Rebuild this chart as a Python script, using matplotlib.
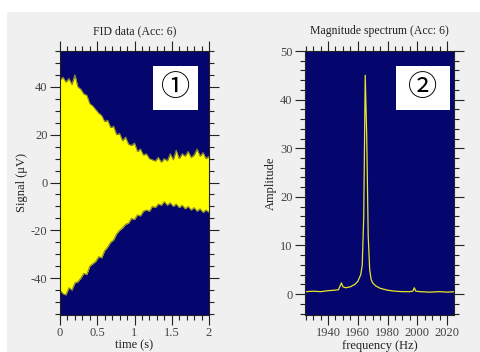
import matplotlib
matplotlib.use("Agg")
import matplotlib.pyplot as plt
from matplotlib.patches import Rectangle
from matplotlib.ticker import MultipleLocator

plt.rcParams["axes.unicode_minus"] = False

# FID envelope (time in s, signal in uV)
fid_time = [0.00, 0.04, 0.08, 0.12, 0.16, 0.20, 0.24, 0.28, 0.32, 0.36,
            0.40, 0.44, 0.48, 0.52, 0.56, 0.60, 0.64, 0.68, 0.72, 0.76,
            0.80, 0.84, 0.88, 0.92, 0.96, 1.00, 1.04, 1.08, 1.12, 1.16,
            1.20, 1.24, 1.28, 1.32, 1.36, 1.40, 1.44, 1.48, 1.52, 1.56,
            1.60, 1.64, 1.68, 1.72, 1.76, 1.80, 1.84, 1.88, 1.92, 1.96, 2.00]
fid_upper = [43, 44, 42, 43.5, 41, 45, 40, 39, 37, 36.5,
             33, 32, 30.5, 29, 28, 25.5, 26, 23, 23.5, 20,
             20.5, 17.5, 19, 16, 15.5, 16.5, 13, 14, 11.5, 12,
             10, 9.5, 9, 10.5, 8.5, 10, 9, 12, 9.5, 13.5,
             10, 12, 11, 13, 10.5, 11.5, 14, 11, 12.5, 10, 11]
fid_lower = [-45, -46.5, -47, -44, -45, -42, -41.5, -40, -38, -38.5,
             -35, -34, -33, -31, -31.5, -28.5, -27, -25, -24, -21.5,
             -20, -19, -17.5, -17, -15, -15.5, -13.5, -14, -12, -11.5,
             -12, -10, -10.5, -9, -9.5, -8, -9.5, -8.5, -10, -9,
             -10.5, -9.5, -11, -10, -11.5, -10.5, -12, -11, -12.5, -11.5, -12.5]

# magnitude spectrum
spec_freq = [1925, 1930, 1935, 1940, 1944, 1947, 1948, 1949, 1950, 1952,
             1955, 1958, 1960, 1962, 1963, 1964, 1965, 1966, 1967, 1968,
             1969, 1970, 1972, 1975, 1980, 1985, 1990, 1995, 1997, 1998,
             1999, 2002, 2008, 2015, 2020, 2025]
spec_amp = [0.5, 0.6, 0.5, 0.7, 0.8, 0.9, 1.6, 2.3, 1.5, 1.3,
            1.5, 2.0, 2.6, 4.0, 6.0, 16.0, 45.0, 32.5, 12.0, 5.0,
            3.0, 2.3, 1.7, 1.2, 0.8, 0.6, 0.5, 0.5, 0.6, 1.3,
            0.6, 0.5, 0.4, 0.5, 0.4, 0.5]

NAVY = "#05056e"
YELLOW = "#ffff00"
BG = "#f0f0f0"
SERIF = "Liberation Serif"
CIRCLED = ["Noto Sans CJK JP", "DejaVu Sans"]

fig = plt.figure(figsize=(4.8, 3.52), dpi=100, facecolor="white")
fig.patches.append(Rectangle((7 / 480, 0), 1, 1 - 12 / 352, transform=fig.transFigure,
                             facecolor=BG, edgecolor="none", zorder=-10))

ax1 = fig.add_axes([60 / 480, 37 / 352, 149 / 480, 264 / 352])
ax2 = fig.add_axes([305 / 480, 37 / 352, 149 / 480, 264 / 352])


def style_axes(ax, xmaj, xmin, ymaj, ymin):
    ax.set_facecolor(NAVY)
    ax.xaxis.set_major_locator(MultipleLocator(xmaj))
    ax.xaxis.set_minor_locator(MultipleLocator(xmin))
    ax.yaxis.set_major_locator(MultipleLocator(ymaj))
    ax.yaxis.set_minor_locator(MultipleLocator(ymin))
    ax.tick_params(which="both", direction="out", top=True, right=True,
                   colors="#222222", labelcolor="#444444", width=0.8)
    ax.tick_params(which="major", length=7, labelsize=9, pad=2)
    ax.tick_params(which="minor", length=3.5)
    for lab in ax.get_xticklabels() + ax.get_yticklabels():
        lab.set_fontfamily(SERIF)
    for sp in ax.spines.values():
        sp.set_color("#222222")
        sp.set_linewidth(0.8)


def number_box(ax, x0, x1, label):
    ax.add_patch(Rectangle((x0, 0.777), x1 - x0, 0.166, transform=ax.transAxes,
                           facecolor="white", edgecolor="none", zorder=5))
    ax.text((x0 + x1) / 2, 0.86, label, transform=ax.transAxes, ha="center",
            va="center", fontsize=21, family=CIRCLED, color="black", zorder=6)


# left: FID data
ax1.fill_between(fid_time, fid_lower, fid_upper, color=YELLOW, linewidth=0)
ax1.plot(fid_time, fid_upper, color="#8a8a30", linewidth=0.8)
ax1.plot(fid_time, fid_lower, color="#8a8a30", linewidth=0.8)
ax1.set_xlim(0, 2)
ax1.set_ylim(-55.4, 55)
style_axes(ax1, 0.5, 0.1, 20, 5)
ax1.set_xticks([0, 0.5, 1, 1.5, 2])
ax1.set_xticklabels(["0", "0.5", "1", "1.5", "2"], family=SERIF)
ax1.set_title("FID data (Acc: 6)", family=SERIF, fontsize=8.5, pad=12, color="#222222")
ax1.set_xlabel("time (s)", family=SERIF, fontsize=9, labelpad=0, color="#222222")
ax1.set_ylabel("Signal (\u03bcV)", family=SERIF, fontsize=9, labelpad=2, color="#222222")
number_box(ax1, 0.624, 0.926, "\u2460")

# right: magnitude spectrum
ax2.plot(spec_freq, spec_amp, color="#e6e62a", linewidth=0.9)
ax2.set_xlim(1924.5, 2024.7)
ax2.set_ylim(-4.3, 50)
style_axes(ax2, 20, 5, 10, 2)
ax2.set_title("Magnitude spectrum (Acc: 6)", family=SERIF, fontsize=8.5, pad=12, color="#222222")
ax2.set_xlabel("frequency (Hz)", family=SERIF, fontsize=9, labelpad=0, color="#222222")
ax2.set_ylabel("Amplitude", family=SERIF, fontsize=9, labelpad=2, color="#222222")
number_box(ax2, 0.611, 0.973, "\u2461")

fig.savefig("out.png", dpi=100, facecolor=fig.get_facecolor())
